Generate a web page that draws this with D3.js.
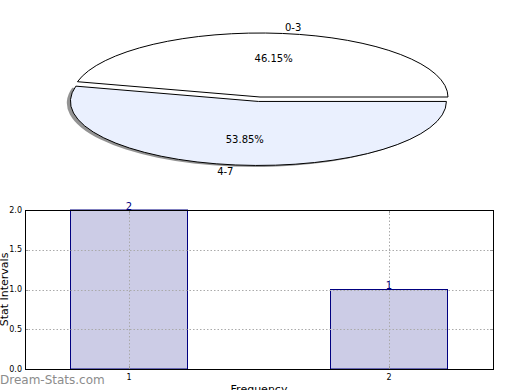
<!DOCTYPE html>
<html>
<head>
<meta charset="utf-8">
<script src="https://cdn.jsdelivr.net/npm/d3@7"></script>
<style>
html,body{margin:0;padding:0;background:#fff;}
svg{display:block;font-family:"DejaVu Sans",sans-serif;}
</style>
</head>
<body>
<svg id="chart" width="520" height="390"></svg>
<script>
// ---- data ----
const pieLabels = ["0-3", "4-7"];
const pieValues = [6, 7];
const pieColors = ["#ffffff", "#eaf0fe"];
const pieExplode = [0, 0.07];

const barCategories = [1, 2];
const barValues = [2, 1];
const yTicks = [0.0, 0.5, 1.0, 1.5, 2.0];

const svg = d3.select("#chart");

// ---- pie ----
const cx = 260, cy = 97, rx = 188, ry = 64;
const pie = d3.pie().sort(null).value(d => d)
  .startAngle(Math.PI / 2).endAngle(Math.PI / 2 - 2 * Math.PI);
const arcs = pie(pieValues);
const arcGen = d3.arc().innerRadius(0).outerRadius(1);
const total = d3.sum(pieValues);

const pg = svg.append("g");
arcs.forEach((a, i) => {
  const mid = (a.startAngle + a.endAngle) / 2;
  const ux = Math.sin(mid), uy = -Math.cos(mid);
  const ox = cx + pieExplode[i] * rx * ux;
  const oy = cy + pieExplode[i] * ry * uy;
  if (i === 1) {
    pg.append("path")
      .attr("d", arcGen(a))
      .attr("transform", `translate(${ox - 3.6},${oy + 1.5}) scale(${rx},${ry})`)
      .attr("fill", "#808080").attr("opacity", 0.85);
  }
  pg.append("path")
    .attr("d", arcGen(a))
    .attr("transform", `translate(${ox},${oy}) scale(${rx},${ry})`)
    .attr("fill", pieColors[i])
    .attr("stroke", "#000")
    .attr("stroke-width", 1)
    .attr("vector-effect", "non-scaling-stroke");
  // label
  const lx = ox + 1.1 * rx * ux, ly = oy + 1.1 * ry * uy;
  pg.append("text")
    .attr("x", lx).attr("y", ly)
    .attr("dominant-baseline", "central")
    .attr("text-anchor", ux >= 0 ? "start" : "end")
    .attr("font-size", 10).attr("fill", "#000")
    .text(pieLabels[i]);
  const px = ox + 0.6 * rx * ux, py = oy + 0.6 * ry * uy;
  pg.append("text")
    .attr("x", px).attr("y", py)
    .attr("dominant-baseline", "central")
    .attr("text-anchor", "middle")
    .attr("font-size", 10).attr("fill", "#000")
    .text((pieValues[i] / total * 100).toFixed(2) + "%");
});

// ---- bar chart ----
const L = 25, R = 493, T = 210, B = 369;
const x = d3.scaleLinear().domain([0.6, 2.4]).range([L, R]);
const y = d3.scaleLinear().domain([0, 2]).range([B, T]);
const barW = 0.45;

const bg = svg.append("g");
bg.selectAll("rect.bar").data(barCategories).enter().append("rect")
  .attr("class", "bar")
  .attr("x", d => x(d - barW / 2))
  .attr("width", d => x(d + barW / 2) - x(d - barW / 2))
  .attr("y", (d, i) => y(barValues[i]))
  .attr("height", (d, i) => y(0) - y(barValues[i]))
  .attr("fill", "#ccccE6")
  .attr("stroke", "#000080")
  .attr("stroke-width", 1);

// grid
const grid = bg.append("g").attr("stroke", "#aaaaaa").attr("stroke-width", 1)
  .attr("stroke-dasharray", "1.5,2");
yTicks.slice(1, -1).forEach(t => {
  grid.append("line").attr("x1", L).attr("x2", R)
    .attr("y1", Math.round(y(t)) + 0.5).attr("y2", Math.round(y(t)) + 0.5);
});
barCategories.forEach(c => {
  grid.append("line").attr("y1", T).attr("y2", B)
    .attr("x1", Math.round(x(c)) + 0.5).attr("x2", Math.round(x(c)) + 0.5);
});

// ticks (inside, both sides)
const tk = bg.append("g").attr("stroke", "#999").attr("stroke-width", 1);
yTicks.forEach(t => {
  const yy = Math.round(y(t)) + 0.5;
  tk.append("line").attr("x1", L).attr("x2", L + 3).attr("y1", yy).attr("y2", yy);
  tk.append("line").attr("x1", R - 3).attr("x2", R).attr("y1", yy).attr("y2", yy);
});
barCategories.forEach(c => {
  const xx = Math.round(x(c)) + 0.5;
  tk.append("line").attr("x1", xx).attr("x2", xx).attr("y1", B).attr("y2", B - 3);
  tk.append("line").attr("x1", xx).attr("x2", xx).attr("y1", T).attr("y2", T + 3);
});

// frame
bg.append("rect").attr("x", L + 0.5).attr("y", T + 0.5)
  .attr("width", R - L).attr("height", B - T)
  .attr("fill", "none").attr("stroke", "#000").attr("stroke-width", 1);

// tick labels
yTicks.forEach(t => {
  bg.append("text").attr("x", L - 3).attr("y", y(t))
    .attr("dominant-baseline", "central").attr("text-anchor", "end")
    .attr("font-size", 8).attr("fill", "#000")
    .text(t.toFixed(1));
});
barCategories.forEach(c => {
  bg.append("text").attr("x", x(c)).attr("y", B + 11)
    .attr("text-anchor", "middle").attr("font-size", 8).attr("fill", "#000")
    .text(c);
});

// value labels
barCategories.forEach((c, i) => {
  bg.append("text").attr("x", x(c)).attr("y", y(barValues[i]) - 0.5)
    .attr("text-anchor", "middle").attr("font-size", 10).attr("fill", "#000080")
    .text(barValues[i]);
});

// axis titles
bg.append("text").attr("transform", `translate(7.5,${(T + B) / 2}) rotate(-90)`)
  .attr("text-anchor", "middle").attr("font-size", 11).attr("fill", "#000")
  .text("Stat Intervals");
bg.append("text").attr("x", (L + R) / 2).attr("y", 393)
  .attr("text-anchor", "middle").attr("font-size", 11).attr("fill", "#000")
  .text("Frequency");

// watermark
svg.append("text").attr("x", 0).attr("y", 384)
  .attr("font-size", 12).attr("fill", "#8c8c8c")
  .text("Dream-Stats.com");
</script>
</body>
</html>
